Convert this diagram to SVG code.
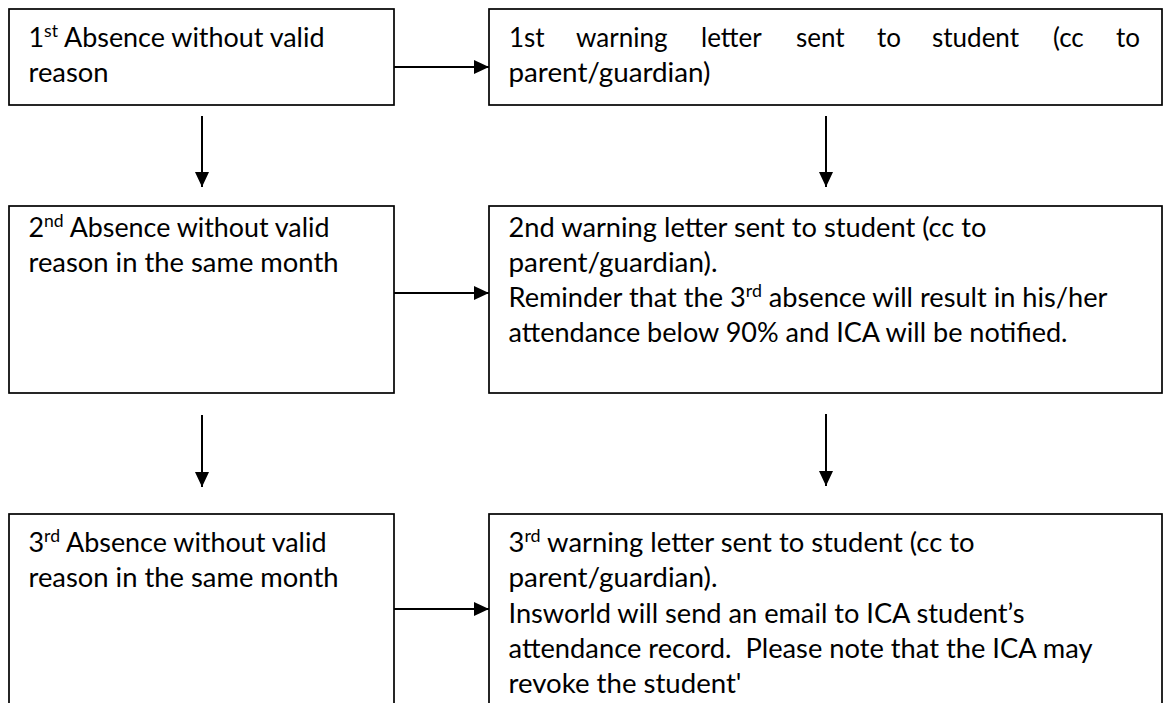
<svg xmlns="http://www.w3.org/2000/svg" width="1164" height="703" viewBox="0 0 1164 703">
<style>
.box{fill:#fff;stroke:#000;stroke-width:1.7}
.t{font-family:Lato,"Liberation Sans",sans-serif;font-size:26px;fill:#000}
.c{stroke:#000;stroke-width:2;fill:none;marker-end:url(#ah)}
</style>
<defs>
<marker id="ah" markerUnits="userSpaceOnUse" markerWidth="15" markerHeight="14" refX="15" refY="7" orient="auto"><path d="M0,0 L15,7 L0,14 z" fill="#000"/></marker>
</defs>
<rect width="1164" height="703" fill="#fff"/>
<g id="node-absence1">
<rect class="box" x="9" y="9" width="385" height="96"/>
<text class="t" x="28.5" y="47" textLength="296" lengthAdjust="spacingAndGlyphs">1<tspan font-size="17" dy="-10">st</tspan><tspan dy="10"> Absence without valid</tspan></text>
<text class="t" x="28.5" y="82" textLength="80" lengthAdjust="spacingAndGlyphs">reason</text>
</g>
<g id="node-letter1">
<rect class="box" x="489" y="9" width="673" height="96"/>
<text class="t" y="47"><tspan x="509">1st</tspan><tspan x="576">warning</tspan><tspan x="701">letter</tspan><tspan x="796">sent</tspan><tspan x="877">to</tspan><tspan x="932">student</tspan><tspan x="1053">(cc</tspan><tspan x="1116">to</tspan></text>
<text class="t" x="508.5" y="82" textLength="202" lengthAdjust="spacingAndGlyphs">parent/guardian)</text>
</g>
<g id="node-absence2">
<rect class="box" x="9" y="206" width="385" height="187"/>
<text class="t" x="28.5" y="237" textLength="301" lengthAdjust="spacingAndGlyphs">2<tspan font-size="17" dy="-10">nd</tspan><tspan dy="10"> Absence without valid</tspan></text>
<text class="t" x="28.5" y="272" textLength="310" lengthAdjust="spacingAndGlyphs">reason in the same month</text>
</g>
<g id="node-letter2">
<rect class="box" x="489" y="206" width="673" height="187"/>
<text class="t" x="508.5" y="237" textLength="478" lengthAdjust="spacingAndGlyphs">2nd warning letter sent to student (cc to</text>
<text class="t" x="508.5" y="272" textLength="209" lengthAdjust="spacingAndGlyphs">parent/guardian).</text>
<text class="t" x="508.5" y="307" textLength="599" lengthAdjust="spacingAndGlyphs">Reminder that the 3<tspan font-size="17" dy="-10">rd</tspan><tspan dy="10"> absence will result in his/her</tspan></text>
<text class="t" x="508.5" y="342" textLength="559" lengthAdjust="spacingAndGlyphs">attendance below 90% and ICA will be notified.</text>
</g>
<g id="node-absence3">
<rect class="box" x="9" y="514" width="385" height="220"/>
<text class="t" x="28.5" y="552" textLength="298" lengthAdjust="spacingAndGlyphs">3<tspan font-size="17" dy="-10">rd</tspan><tspan dy="10"> Absence without valid</tspan></text>
<text class="t" x="28.5" y="587" textLength="310" lengthAdjust="spacingAndGlyphs">reason in the same month</text>
</g>
<g id="node-letter3">
<rect class="box" x="489" y="514" width="673" height="220"/>
<text class="t" x="508.5" y="552" textLength="466" lengthAdjust="spacingAndGlyphs">3<tspan font-size="17" dy="-10">rd</tspan><tspan dy="10"> warning letter sent to student (cc to</tspan></text>
<text class="t" x="508.5" y="587" textLength="209" lengthAdjust="spacingAndGlyphs">parent/guardian).</text>
<text class="t" x="508.5" y="623" textLength="516" lengthAdjust="spacingAndGlyphs">Insworld will send an email to ICA student’s</text>
<text class="t" x="508.5" y="658" textLength="584" lengthAdjust="spacingAndGlyphs" xml:space="preserve">attendance record.  Please note that the ICA may</text>
<text class="t" x="508.5" y="693" textLength="233" lengthAdjust="spacingAndGlyphs">revoke the student'</text>
</g>
<g id="connectors">
<line class="c" x1="394" y1="67" x2="489" y2="67"/>
<line class="c" x1="394" y1="293" x2="489" y2="293"/>
<line class="c" x1="394" y1="609" x2="489" y2="609"/>
<line class="c" x1="202" y1="116" x2="202" y2="187"/>
<line class="c" x1="826" y1="116" x2="826" y2="187"/>
<line class="c" x1="202" y1="415" x2="202" y2="487"/>
<line class="c" x1="826" y1="414" x2="826" y2="486"/>
</g>
</svg>
